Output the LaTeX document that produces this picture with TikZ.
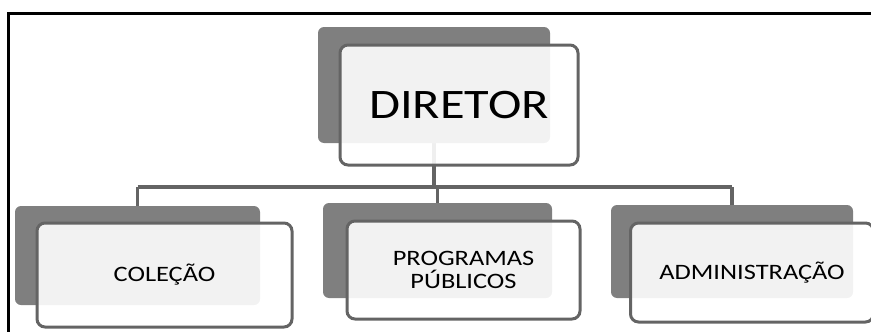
\documentclass[tikz,border=0pt]{standalone}
\usepackage{fontspec}
\setmainfont{Carlito}
\usetikzlibrary{backgrounds}
\definecolor{shadegray}{HTML}{7F7F7F}
\definecolor{linegray}{HTML}{646464}
\newcommand{\widetext}[1]{\scalebox{1.2}[1]{#1}}
\newcommand{\childfont}{\fontsize{22}{23}\selectfont}

\begin{document}
\begin{tikzpicture}[x=1pt, y=-1pt,
  backbox/.style={fill=shadegray, rounded corners=6pt, inner sep=0pt},
  frontbox/.style={draw=linegray, line width=3pt, rounded corners=8pt, fill=white, fill opacity=0.9, text opacity=1, inner sep=0pt, align=center},
  childtext/.style={font=\childfont},
  link/.style={draw=linegray, line width=3.5pt},
  frame/.style={draw=black, line width=3pt}
]
\useasboundingbox (0,0) rectangle (871,332);
\draw[frame] (8,332) -- (8,13) -- (871,13);

% top box
\node[backbox, minimum width=232pt, minimum height=116pt] (diretorBack) at (434,85) {};
\node[frontbox, minimum width=238pt, minimum height=120pt, font=\fontsize{42}{46}\selectfont] (diretor) at (459,105) {\widetext{DIRETOR}};

% second level
\node[backbox, minimum width=245pt, minimum height=99pt] (colecaoBack) at (137.5,255.5) {};
\node[frontbox, childtext, minimum width=255pt, minimum height=104pt] (colecao) at (164.5,275) {\widetext{COLEÇÃO}};

\node[backbox, minimum width=229pt, minimum height=95pt] (programasBack) at (437.5,250.5) {};
\node[frontbox, childtext, minimum width=233pt, minimum height=98pt] (programas) at (463.5,270) {\widetext{PROGRAMAS}\\\widetext{PÚBLICOS}};

\node[backbox, minimum width=242pt, minimum height=93pt] (adminBack) at (732,251.5) {};
\node[frontbox, childtext, minimum width=243pt, minimum height=99pt] (admin) at (752,272.5) {\widetext{ADMINISTRAÇÃO}};

\begin{scope}[on background layer]
\coordinate (bus) at (437,187);
\draw[link] (diretorBack.center) -- (diretorBack.center |- bus);
\draw[link] (colecaoBack.center |- bus) -- (adminBack.center |- bus);
\foreach \n in {colecaoBack, programasBack, adminBack}
  \draw[link] (\n.center |- bus) -- (\n.center);
\end{scope}
\end{tikzpicture}
\end{document}
